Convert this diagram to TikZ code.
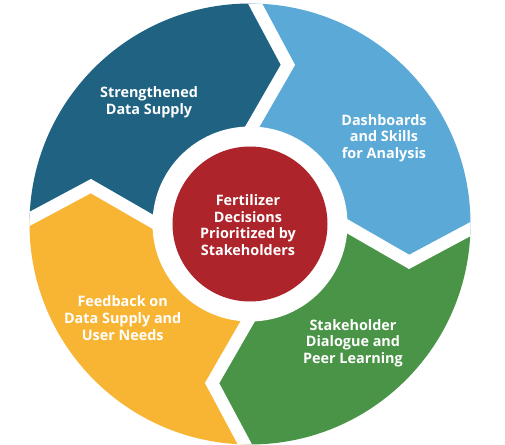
\documentclass[tikz,border=0pt]{standalone}
\usepackage{fontspec}
\setmainfont{Open Sans}
\usetikzlibrary{calc}
\definecolor{cdb}{HTML}{1F6282}
\definecolor{clb}{HTML}{5BA9D7}
\definecolor{cgr}{HTML}{4A9447}
\definecolor{cye}{HTML}{F8B533}
\definecolor{cred}{HTML}{AD242B}
\tikzset{
  lbl/.style={text=white, font=\bfseries\fontsize{14.4}{16.7}\selectfont, align=center, inner sep=0pt},
  gapline/.style={draw=white, line width=12.5pt, line join=miter, miter limit=10}
}
\begin{document}
\begin{tikzpicture}[x=1pt,y=1pt]
\fill[white] (-250,-220) rectangle (255,224);
\useasboundingbox (-250,-220) rectangle (255,224);
\begin{scope}
  \clip (0,0) circle (220.5pt);
  \foreach \A/\col in {178.6/cdb, 88.6/clb, -1.4/cgr, -91.4/cye} {
    \pgfmathsetmacro\B{\A-90}
    \pgfmathsetmacro\Ar{\A-90}
    \pgfmathsetmacro\Br{\A-180}
    \pgfmathsetmacro\M{\A-45}
    \fill[\col] (0,0) -- ($(\A:97.5pt)$) -- ($(\A:160pt)+(\Ar:34pt)$) -- ($(\A:240pt)+(\Ar:-11.3pt)$)
      -- (\M:400pt) -- ($(\B:240pt)+(\Br:-11.3pt)$) -- ($(\B:160pt)+(\Br:34pt)$) -- ($(\B:97.5pt)$) -- cycle;
  }
  \foreach \A in {178.6, 88.6, -1.4, -91.4} {
    \pgfmathsetmacro\Ar{\A-90}
    \draw[gapline] ($(\A:85pt)+(\Ar:-6.8pt)$) -- ($(\A:160pt)+(\Ar:34pt)$) -- ($(\A:250pt)+(\Ar:-17pt)$);
  }
\end{scope}
\fill[white] (0,0) circle (97.5pt);
\fill[cred] (0,0) circle (77.5pt);
\node[lbl] (center) at (-2,-1) {Fertilizer\\Decisions\\Prioritized by\\Stakeholders};
\node[lbl] (supply) at (-101,122) {Strengthened\\Data Supply};
\node[lbl] (dash) at (134,86) {Dashboards\\and Skills\\for Analysis};
\node[lbl] (dialog) at (103,-119) {Stakeholder\\Dialogue and\\Peer Learning};
\node[lbl] (feedback) at (-127.3,-94) {Feedback on\\Data Supply and\\User Needs};
\end{tikzpicture}
\end{document}
